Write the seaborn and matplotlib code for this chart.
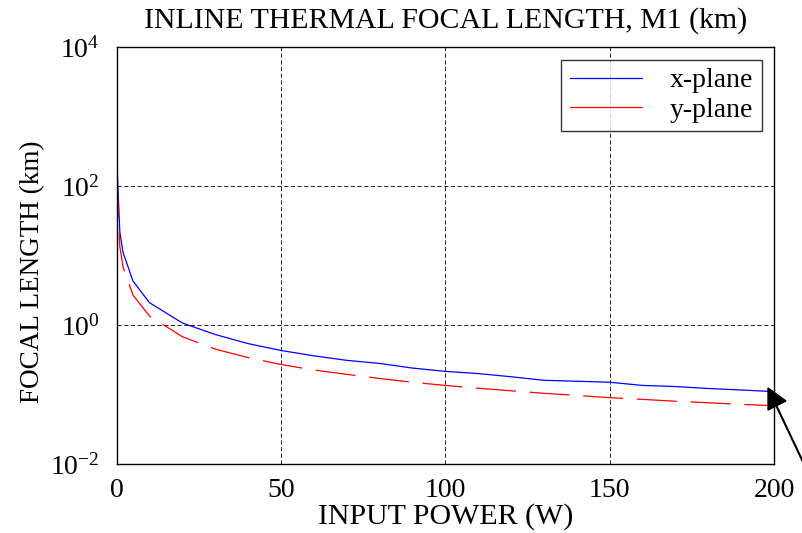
import numpy as np
import pandas as pd
import matplotlib
matplotlib.use("Agg")
import matplotlib.pyplot as plt
from matplotlib.patches import Polygon
from matplotlib.lines import Line2D
import seaborn as sns

# values
power = [0.1, 1, 2, 5, 10, 20, 30, 40, 50, 60, 70, 80, 90, 100,
         110, 120, 130, 140, 150, 160, 170, 180, 190, 200]
x_plane = [220, 22, 11, 4.3, 2.1, 1.07, 0.73, 0.54, 0.43, 0.36, 0.31, 0.28,
           0.24, 0.215, 0.20, 0.18, 0.16, 0.155, 0.15, 0.135, 0.13, 0.122,
           0.116, 0.11]
y_plane = [130, 13.5, 6.8, 2.7, 1.35, 0.68, 0.45, 0.34, 0.27, 0.225, 0.195,
           0.17, 0.15, 0.135, 0.123, 0.113, 0.104, 0.097, 0.09, 0.085, 0.08,
           0.076, 0.072, 0.069]
x_ticks = [0, 50, 100, 150, 200]
y_ticks = [1e-2, 1e0, 1e2, 1e4]
y_tick_labels = [r"$\mathregular{10^{-2}}$", r"$\mathregular{10^{0}}$",
                 r"$\mathregular{10^{2}}$", r"$\mathregular{10^{4}}$"]

df = pd.DataFrame({"power": power, "x-plane": x_plane, "y-plane": y_plane})

sns.set_style("white")
plt.rcParams["font.family"] = ["Liberation Serif", "DejaVu Serif"]
plt.rcParams["mathtext.fontset"] = "custom"
plt.rcParams["mathtext.rm"] = "Liberation Serif"
plt.rcParams["text.color"] = "black"
plt.rcParams["axes.labelcolor"] = "black"
plt.rcParams["xtick.color"] = "black"
plt.rcParams["ytick.color"] = "black"

fig = plt.figure(figsize=(8.03, 5.33), dpi=100)
ax = fig.add_axes([0.1451, 0.1295, 0.8188, 0.7823])

sns.lineplot(data=df, x="power", y="x-plane", ax=ax, color="blue",
             linewidth=0.9, label="x-plane")
sns.lineplot(data=df, x="power", y="y-plane", ax=ax, color="red",
             linewidth=0.9, linestyle=(0, (32, 11)), label="y-plane")

ax.set_yscale("log")
ax.set_xlim(0, 200)
ax.set_ylim(1e-2, 1e4)
ax.set_xticks(x_ticks)
ax.set_yticks(y_ticks)
ax.set_yticklabels(y_tick_labels)
ax.yaxis.set_minor_locator(matplotlib.ticker.NullLocator())
ax.tick_params(axis="both", which="major", direction="in", length=5,
               width=0.8, labelsize=20, color="black", labelcolor="black")
ax.tick_params(axis="x", pad=10)
ax.tick_params(axis="y", pad=12)

ax.grid(True, which="major", color="black", linewidth=0.6,
        linestyle=(0, (5, 3)))
for s in ax.spines.values():
    s.set_color("black")
    s.set_linewidth(1.0)

ax.set_title("INLINE THERMAL FOCAL LENGTH, M1 (km)", fontsize=21.5, pad=14,
             color="black")
ax.set_xlabel("INPUT POWER (W)", fontsize=21.5, labelpad=0, color="black")
ax.set_ylabel("FOCAL LENGTH (km)", fontsize=19.5, color="black")
ax.yaxis.set_label_coords(-0.109, 0.46)

leg = ax.legend(loc="upper right", fontsize=20, frameon=True, fancybox=False,
                borderpad=0.3, handlelength=2.6, handletextpad=1.0,
                labelspacing=0.15, borderaxespad=0.45)
leg.get_frame().set_edgecolor("black")
leg.get_frame().set_linewidth(1.0)
for h in leg.get_lines():
    h.set_linestyle("-")
for t in leg.get_texts():
    t.set_color("black")

# pointer arrow at the bottom right corner (figure pixels)
W, H = 803, 533
head = Polygon([(768 / W, 1 - 388 / H), (768 / W, 1 - 410 / H),
                (786 / W, 1 - 401 / H)], closed=True, facecolor="black",
               edgecolor="black", transform=fig.transFigure)
fig.add_artist(head)
fig.add_artist(Line2D([776 / W, 803 / W], [1 - 405 / H, 1 - 462 / H],
                      color="black", linewidth=1.5,
                      transform=fig.transFigure))

fig.savefig("out.png", dpi=100)
